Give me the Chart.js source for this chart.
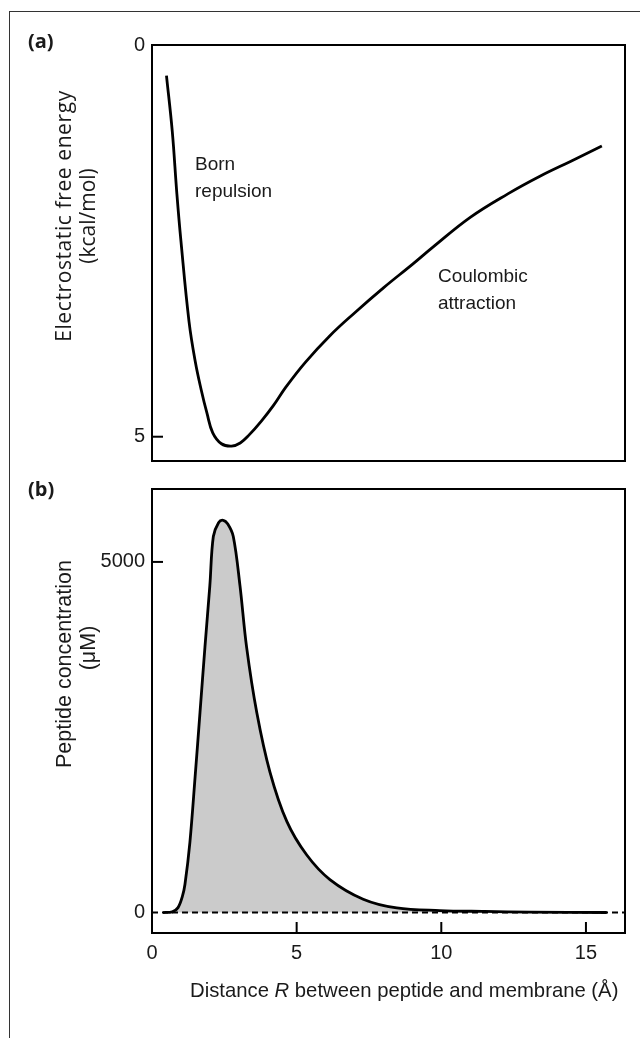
<!DOCTYPE html>
<html>
<head>
<meta charset="utf-8">
<script src="https://cdn.jsdelivr.net/npm/chart.js@4.4.1/dist/chart.umd.min.js"></script>
<style>
  body { margin: 0; background: #fff; }
  .moldura { position: absolute; left: 9px; top: 11px; width: 640px; height: 1040px; border-left: 1.5px solid #333; border-top: 1.5px solid #333; }
  canvas { position: absolute; left: 0; }
</style>
</head>
<body>
<div class="moldura"></div>
<canvas id="energia" width="640" height="480" style="top:0"></canvas>
<canvas id="concentracao" width="640" height="568" style="top:470px"></canvas>
<script>
// (a) energia livre eletrostatica
const distEnergia = [0.5, 0.7, 0.86, 1.0, 1.28, 1.5, 1.7, 1.9, 2.1, 2.4, 2.75, 3.05, 3.35, 3.78, 4.2, 4.62, 5.3, 6.15, 7.0, 8.0, 9.0, 9.71, 11.0, 12.3, 13.41, 14.5, 15.55]
const energia = [0.39, 1.1, 1.9, 2.5, 3.53, 4.05, 4.4, 4.7, 4.95, 5.09, 5.12, 5.08, 4.98, 4.8, 4.6, 4.37, 4.05, 3.71, 3.42, 3.1, 2.8, 2.58, 2.2, 1.9, 1.675, 1.48, 1.29]
// (b) concentracao de peptideo
const distPeptideo = [0.38, 0.7, 0.9, 1.05, 1.14, 1.31, 1.49, 1.66, 1.83, 2.0, 2.12, 2.3, 2.46, 2.62, 2.81, 3.04, 3.27, 3.62, 4.08, 4.66, 5.35, 6.15, 7.3, 8.46, 9.95, 11.5, 13.07, 15.72]
const concentracao = [0, 10, 70, 230, 403, 1002, 1934, 2857, 3785, 4666, 5362, 5560, 5594, 5540, 5362, 4666, 3785, 2857, 2000, 1300, 820, 470, 190, 65, 28, 15, 5, 0]
const ticksX = [0, 5, 10, 15]
const ticksEnergia = [0, 5]
const ticksConc = [0, 5000]
const maxX = 16.35

const fonteTick = { family: "'Liberation Sans', Arial, sans-serif", size: 20 }
const pontos = (xs, ys) => xs.map((x, i) => ({ x: x, y: ys[i] }))

const moldura = {
  id: 'moldura',
  afterDraw(chart, args, opts) {
    const ctx = chart.ctx, a = chart.chartArea
    ctx.save()
    ctx.strokeStyle = '#000'
    ctx.lineWidth = 2
    ctx.strokeRect(a.left, a.top, a.right - a.left, a.bottom - a.top)
    const linha = (x1, y1, x2, y2) => { ctx.beginPath(); ctx.moveTo(x1, y1); ctx.lineTo(x2, y2); ctx.stroke() }
    opts.yTicks.forEach(v => { const p = chart.scales.y.getPixelForValue(v); linha(a.left, p, a.left + 11, p) })
    opts.xTicks.forEach(v => { const p = chart.scales.x.getPixelForValue(v); linha(p, a.bottom, p, a.bottom - 11) })
    ctx.fillStyle = '#1a1a1a'
    ctx.textBaseline = 'middle'
    opts.textos.forEach(t => {
      ctx.save()
      ctx.translate(t.x, t.y - opts.dy)
      if (t.rot) ctx.rotate(-Math.PI / 2)
      ctx.textAlign = t.align || 'left'
      ctx.letterSpacing = t.spacing || '0px'
      let x = 0
      const partes = t.partes || [[t.text, t.font]]
      partes.forEach(p => { ctx.font = p[1]; ctx.fillText(p[0], x, 0); x += ctx.measureText(p[0]).width })
      ctx.restore()
    })
    ctx.restore()
  }
}

const sans = "'Liberation Sans', Arial, sans-serif"
const open = "'Open Sans', sans-serif"

new Chart(document.getElementById('energia'), {
  type: 'line',
  data: { datasets: [{
    data: pontos(distEnergia, energia),
    borderColor: '#000', borderWidth: 2.8, pointRadius: 0, tension: 0.4, fill: false
  }]},
  options: {
    responsive: false, animation: false,
    layout: { padding: { top: 45, right: 15, bottom: 2, left: 0 } },
    plugins: {
      legend: { display: false }, tooltip: { enabled: false },
      moldura: { dy: 0, yTicks: [5], xTicks: [], textos: [
        { text: '(a)', x: 28, y: 42, font: 'bold 20px ' + open },
        { text: 'Born', x: 195, y: 165, font: '19px ' + sans },
        { text: 'repulsion', x: 195, y: 192, font: '19px ' + sans },
        { text: 'Coulombic', x: 438, y: 277, font: '19px ' + sans },
        { text: 'attraction', x: 438, y: 304, font: '19px ' + sans },
        { text: 'Electrostatic free energy', x: 65, y: 216, rot: true, align: 'center', font: '21px ' + open, spacing: '0.6px' },
        { text: '(kcal/mol)', x: 89, y: 216, rot: true, align: 'center', font: '21px ' + open }
      ]}
    },
    scales: {
      x: { type: 'linear', min: 0, max: maxX, display: false },
      y: {
        reverse: true, min: 0, max: 5.31,
        afterBuildTicks: s => { s.ticks = ticksEnergia.map(v => ({ value: v })) },
        afterFit: s => { s.width = 152 },
        grid: { display: false, drawTicks: false }, border: { display: false },
        ticks: { font: fonteTick, color: '#1a1a1a', padding: 7, callback: v => String(v) }
      }
    }
  },
  plugins: [moldura]
})

new Chart(document.getElementById('concentracao'), {
  type: 'line',
  data: { datasets: [{
    data: pontos([0, maxX], [0, 0]),
    borderColor: '#000', borderWidth: 2, borderDash: [6, 4], pointRadius: 0, fill: false
  }, {
    data: pontos(distPeptideo, concentracao),
    borderColor: '#000', borderWidth: 2.8, pointRadius: 0, tension: 0.35,
    fill: { value: 0 }, backgroundColor: '#cbcbcb'
  }]},
  options: {
    responsive: false, animation: false,
    layout: { padding: { top: 8, right: 15, bottom: 0, left: 0 } },
    plugins: {
      legend: { display: false }, tooltip: { enabled: false },
      moldura: { dy: 470, yTicks: [5000], xTicks: [5, 10, 15], textos: [
        { text: '(b)', x: 28, y: 490, font: 'bold 20px ' + open },
        { text: 'Peptide concentration', x: 65, y: 664, rot: true, align: 'center', font: '21.5px ' + sans },
        { text: '(\u03bcM)', x: 89, y: 648, rot: true, align: 'center', font: '21.5px ' + sans },
        { x: 190, y: 991, partes: [['Distance ', '20.3px ' + sans], ['R', 'italic 20.3px ' + sans], [' between peptide and membrane (\u00c5)', '20.3px ' + sans]] }
      ]}
    },
    scales: {
      x: {
        type: 'linear', min: 0, max: maxX,
        afterBuildTicks: s => { s.ticks = ticksX.map(v => ({ value: v })) },
        afterFit: s => { s.height = 105 },
        grid: { display: false, drawTicks: false }, border: { display: false },
        ticks: { font: fonteTick, color: '#1a1a1a', padding: 8, maxRotation: 0, callback: v => String(v) }
      },
      y: {
        min: -292, max: 6040,
        afterBuildTicks: s => { s.ticks = ticksConc.map(v => ({ value: v })) },
        afterFit: s => { s.width = 152 },
        grid: { display: false, drawTicks: false }, border: { display: false },
        ticks: { font: fonteTick, color: '#1a1a1a', padding: 7, callback: v => String(v) }
      }
    }
  },
  plugins: [moldura]
})
</script>
</body>
</html>
